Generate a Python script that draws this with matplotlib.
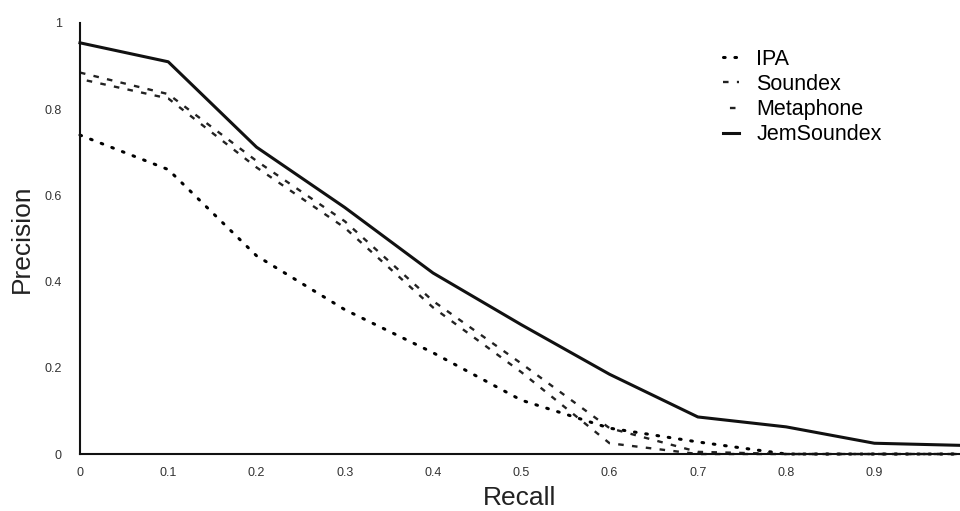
import matplotlib
matplotlib.use("Agg")
import matplotlib.pyplot as plt

recall = [0.0, 0.1, 0.2, 0.3, 0.4, 0.5, 0.6, 0.7, 0.8, 0.9, 1.0]
ipa = [0.74, 0.66, 0.46, 0.335, 0.235, 0.125, 0.06, 0.028, 0.0, 0.0, 0.0]
soundex = [0.885, 0.835, 0.68, 0.54, 0.355, 0.21, 0.06, 0.005, 0.0, 0.0, 0.0]
metaphone = [0.87, 0.825, 0.665, 0.525, 0.34, 0.19, 0.025, 0.0, 0.0, 0.0, 0.0]
jemsoundex = [0.954, 0.91, 0.712, 0.572, 0.42, 0.30, 0.185, 0.086, 0.063, 0.025, 0.02]

xticks = [0, 0.1, 0.2, 0.3, 0.4, 0.5, 0.6, 0.7, 0.8, 0.9]
xticklabels = ["0", "0.1", "0.2", "0.3", "0.4", "0.5", "0.6", "0.7", "0.8", "0.9"]
yticks = [0, 0.2, 0.4, 0.6, 0.8, 1.0]
yticklabels = ["0", "0.2", "0.4", "0.6", "0.8", "1"]

plt.rcParams['font.family'] = ['Liberation Sans', 'DejaVu Sans']
plt.rcParams['lines.scale_dashes'] = False

fig = plt.figure(figsize=(9.6, 5.11), dpi=100)
ax = fig.add_axes([0.0833, 0.1115, 0.9167, 0.8435])

ax.plot(recall, ipa, color='black', lw=2.2, linestyle=(0, (1.2, 7.0)),
        dash_capstyle='round', label='IPA', clip_on=False)
ax.plot(recall, soundex, color='#222222', lw=1.7, linestyle=(0, (4, 6)),
        label='Soundex', clip_on=False)
ax.plot(recall, metaphone, color='#222222', lw=1.7, linestyle=(5, (4, 6)),
        label='Metaphone', clip_on=False)
ax.plot(recall, jemsoundex, color='#111111', lw=2.2, linestyle='-',
        label='JemSoundex', clip_on=False)

ax.set_xlim(0, 0.997)
ax.set_ylim(0, 1.0)
ax.set_xticks(xticks)
ax.set_xticklabels(xticklabels)
ax.set_yticks(yticks)
ax.set_yticklabels(yticklabels)
ax.tick_params(axis='both', length=0, labelsize=9, labelcolor='#333333')
ax.tick_params(axis='x', pad=9)
ax.tick_params(axis='y', pad=13)

for s in ['top', 'right']:
    ax.spines[s].set_visible(False)
for s in ['left', 'bottom']:
    ax.spines[s].set_linewidth(1.5)
    ax.spines[s].set_color('#111111')

ax.set_xlabel('Recall', fontsize=19, color='#222222')
ax.set_ylabel('Precision', fontsize=19, color='#222222')
ax.xaxis.set_label_coords(0.5, -0.075)
ax.yaxis.set_label_coords(-0.052, 0.5)

leg = ax.legend(loc='upper left', bbox_to_anchor=(0.753, 0.905),
                bbox_transform=fig.transFigure, frameon=False, fontsize=15.5,
                handlelength=0.75, handletextpad=0.8, labelspacing=0.2,
                borderpad=0, borderaxespad=0)

fig.savefig('out.png', dpi=100, facecolor='white')
